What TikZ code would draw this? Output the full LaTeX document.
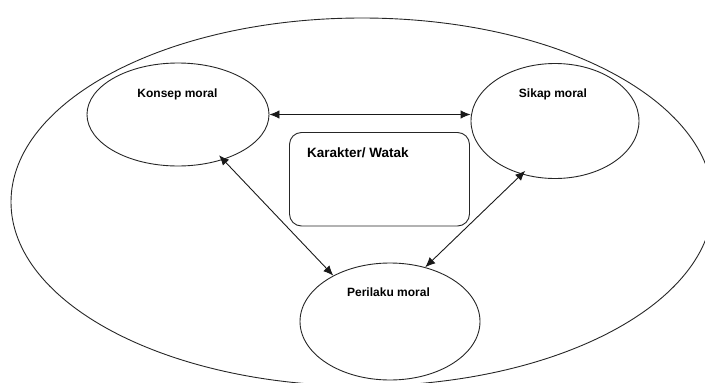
\documentclass[tikz,border=0pt]{standalone}
\usepackage{fontspec}
\setmainfont{Liberation Sans}
\usetikzlibrary{shapes.geometric,arrows.meta}
\tikzset{
  oval/.style={ellipse,draw=black!85,line width=0.9pt,inner sep=0pt},
  lbl/.style={font=\bfseries\fontsize{12}{14}\selectfont,inner sep=0pt,anchor=base},
  boxlbl/.style={font=\bfseries\fontsize{13.5}{15}\selectfont,inner sep=0pt,anchor=base west},
  kbox/.style={draw=black!85,line width=0.9pt,rounded corners=12pt},
  link/.style={draw=black!90,line width=0.9pt,{Latex[length=10pt,width=8.5pt]}-{Latex[length=10pt,width=8.5pt]}}
}
\begin{document}
\begin{tikzpicture}[x=1pt,y=-1pt]
\useasboundingbox (0,0) rectangle (705,383);
\node[oval,minimum width=702pt,minimum height=368pt] (outer) at (362,202) {};
\node[oval,minimum width=182pt,minimum height=103pt] (k) at (178,114.5) {};
\node[oval,minimum width=168pt,minimum height=115pt] (s) at (555,121) {};
\node[oval,minimum width=180pt,minimum height=117pt] (p) at (390,321.5) {};
\draw[kbox] (289.5,132.5) rectangle (469.5,226) node[midway] (box) {};
\node[lbl] (kt) at (177.5,97) {Konsep moral};
\node[lbl] (st) at (553,97) {Sikap moral};
\node[lbl] (pt) at (388.5,296) {Perilaku moral};
\node[boxlbl] (bt) at (307,157) {Karakter/ Watak};
\draw[link] (k.east) -- (k.east -| s.west);
\draw[link,shorten <=-6pt] (k.-45) -- (p.141.4);
\draw[link,shorten <=-5pt] (s.-122.5) -- (p.57.3);
\end{tikzpicture}
\end{document}
